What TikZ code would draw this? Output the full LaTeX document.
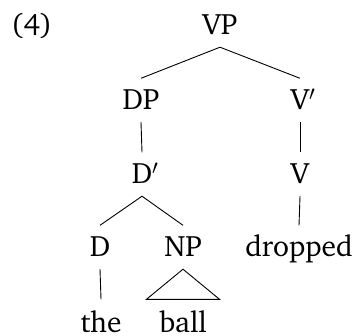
\documentclass[tikz,border=0pt]{standalone}
\usepackage[T1]{fontenc}
\usepackage{charter}
\begin{document}
\begin{tikzpicture}[x=1pt,y=-1pt,
  lab/.style={anchor=base, inner xsep=0pt, inner ysep=12pt, text height=19.5pt, text depth=0pt, font=\fontsize{29.5}{35}\selectfont},
  leaf/.style={lab, inner ysep=0pt},
  edge/.style={line width=0.9pt}]
\useasboundingbox (0,0) rectangle (358,336);
\node[lab, anchor=base west] (ex) at (11,35) {(4)};
\node[lab] (VP) at (220,35) {VP};
\node[lab] (DP) at (141,110) {DP};
\node[lab] (Vbar) at (300,110) {V\rlap{$'$}};
\node[lab] (Dbar) at (142,184) {D\rlap{$'$}};
\node[lab] (V) at (300,184) {V};
\node[lab] (D) at (100,257) {D};
\node[lab] (NP) at (183,257) {NP};
\node[lab] (dropped) at (299,257) {dropped};
\node[leaf] (the) at (101,332) {the};
\node[leaf] (ball) at (183,332) {ball};
\draw[edge] (VP.south) -- (DP.north);
\draw[edge] (VP.south) -- (Vbar.north);
\draw[edge] (DP.south) -- (Dbar.north);
\draw[edge] (Vbar.south) -- (V.north);
\draw[edge] (Dbar.south) -- (D.north);
\draw[edge] (Dbar.south) -- (NP.north);
\draw[edge] (V.south) -- (dropped.north);
\draw[edge] (D.south) -- ([yshift=13pt]the.north);
\draw[edge] (NP.south) -- ([xshift=-36.5pt,yshift=13pt]ball.north) -- ([xshift=36.5pt,yshift=13pt]ball.north) -- cycle;
\end{tikzpicture}
\end{document}
